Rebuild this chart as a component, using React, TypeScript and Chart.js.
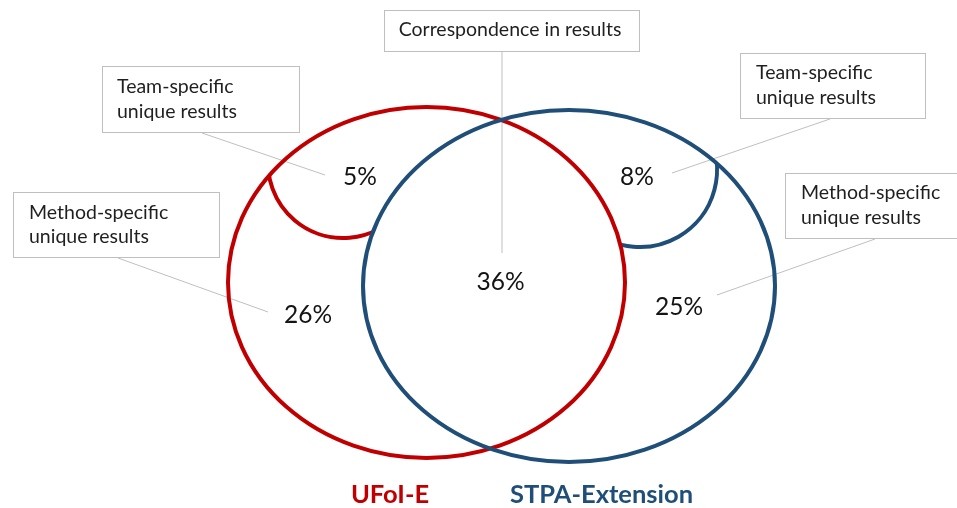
import React, { useEffect, useRef } from "react";
import { Chart, registerables } from "chart.js";

Chart.register(...registerables);

// ---------- data ----------
const setNames = ["UFoI-E", "STPA-Extension"];
const setColors = ["#C00000", "#1F4E79"];
const regionValues = [26, 5, 36, 8, 25]; // % : UFoI method, UFoI team, shared, STPA team, STPA method
const calloutTexts = [
  ["Method-specific", "unique results"],
  ["Team-specific", "unique results"],
  ["Correspondence in results"],
  ["Team-specific", "unique results"],
  ["Method-specific", "unique results"],
];

// ---------- layout (diagram units on hidden linear scales) ----------
const ellipses = [
  { cx: 426.5, cy: 282.5, rx: 198.5, ry: 175.5 },
  { cx: 569, cy: 286, rx: 206, ry: 176 },
];
const subArcs = [
  { cx: 343, cy: 163, r: 75, a0: 40, a1: 190 },
  { cx: 640, cy: 170, r: 77, a0: -30, a1: 130 },
];
const valuePos = [
  { x: 308, y: 315 },
  { x: 360, y: 177 },
  { x: 500.5, y: 282 },
  { x: 637, y: 177 },
  { x: 679, y: 307 },
];
const boxes = [
  { x0: 13, y0: 192, x1: 219, y1: 257, tx: 29, ly: [213, 237], center: false },
  { x0: 102, y0: 66, x1: 299, y1: 132, tx: 117, ly: [87, 112], center: false },
  { x0: 383.5, y0: 10, x1: 638, y1: 50.5, tx: 510, ly: [30], center: true },
  { x0: 740, y0: 53, x1: 925, y1: 118, tx: 756, ly: [73, 98], center: false },
  { x0: 785, y0: 173, x1: 965, y1: 238, tx: 801, ly: [193, 218], center: false },
];
const leaders = [
  { x0: 118, y0: 258, x1: 268, y1: 312 },
  { x0: 202, y0: 133, x1: 325, y1: 175 },
  { x0: 502, y0: 51, x1: 502, y1: 253 },
  { x0: 830, y0: 119, x1: 672, y1: 173 },
  { x0: 875, y0: 239, x1: 717, y1: 295 },
];
const setLabelPos = [
  { x: 390, y: 495 },
  { x: 601.5, y: 495 },
];

const FONT = "Lato, 'Open Sans', sans-serif";

const vennPlugin = {
  id: "venn",
  afterDraw(chart: any) {
    const ctx: CanvasRenderingContext2D = chart.ctx;
    const xs = chart.scales.x;
    const ys = chart.scales.y;
    const px = (v: number) => xs.getPixelForValue(v);
    const py = (v: number) => ys.getPixelForValue(v);
    const dx = (v: number) => Math.abs(xs.getPixelForValue(v) - xs.getPixelForValue(0));
    const dy = (v: number) => Math.abs(ys.getPixelForValue(v) - ys.getPixelForValue(0));

    ctx.save();
    // leader lines
    ctx.strokeStyle = "#BFBFBF";
    ctx.lineWidth = 1;
    leaders.forEach((l) => {
      ctx.beginPath();
      ctx.moveTo(px(l.x0), py(l.y0));
      ctx.lineTo(px(l.x1), py(l.y1));
      ctx.stroke();
    });

    // sub arcs clipped to the set-only areas (even-odd of both ellipses)
    ctx.save();
    ctx.beginPath();
    ellipses.forEach((e) => {
      ctx.moveTo(px(e.cx) + dx(e.rx), py(e.cy));
      ctx.ellipse(px(e.cx), py(e.cy), dx(e.rx), dy(e.ry), 0, 0, Math.PI * 2);
    });
    ctx.clip("evenodd");
    subArcs.forEach((a, i) => {
      ctx.strokeStyle = setColors[i];
      ctx.lineWidth = 4;
      ctx.beginPath();
      ctx.arc(px(a.cx), py(a.cy), dx(a.r), (a.a0 * Math.PI) / 180, (a.a1 * Math.PI) / 180);
      ctx.stroke();
    });
    ctx.restore();

    // ellipses
    ellipses.forEach((e, i) => {
      ctx.strokeStyle = setColors[i];
      ctx.lineWidth = 4;
      ctx.beginPath();
      ctx.ellipse(px(e.cx), py(e.cy), dx(e.rx), dy(e.ry), 0, 0, Math.PI * 2);
      ctx.stroke();
    });

    // callout boxes
    boxes.forEach((b, i) => {
      const x0 = Math.round(px(b.x0)) + 0.5;
      const y0 = Math.round(py(b.y0)) + 0.5;
      const w = Math.round(px(b.x1) - px(b.x0));
      const h = Math.round(py(b.y1) - py(b.y0));
      ctx.fillStyle = "#FFFFFF";
      ctx.fillRect(x0, y0, w, h);
      ctx.strokeStyle = "#BFBFBF";
      ctx.lineWidth = 1;
      ctx.strokeRect(x0, y0, w, h);
      ctx.fillStyle = "#1F1F1F";
      ctx.font = `19.5px ${FONT}`;
      ctx.textBaseline = "middle";
      ctx.textAlign = b.center ? "center" : "left";
      calloutTexts[i].forEach((t, j) => {
        ctx.fillText(t, px(b.tx), py(b.ly[j]));
      });
    });

    // values
    ctx.fillStyle = "#141414";
    ctx.font = `24.5px ${FONT}`;
    ctx.textAlign = "center";
    ctx.textBaseline = "middle";
    regionValues.forEach((v, i) => {
      ctx.fillText(`${v}%`, px(valuePos[i].x), py(valuePos[i].y));
    });

    // set names
    ctx.font = `bold 25.5px ${FONT}`;
    setNames.forEach((n, i) => {
      ctx.fillStyle = setColors[i];
      ctx.fillText(n, px(setLabelPos[i].x), py(setLabelPos[i].y));
    });
    ctx.restore();
  },
};

export default function App() {
  const ref = useRef<HTMLCanvasElement | null>(null);
  useEffect(() => {
    document.body.style.margin = "0";
    if (!ref.current) return;
    const chart = new Chart(ref.current, {
      type: "scatter",
      data: { datasets: [{ data: [], pointRadius: 0 }] },
      options: {
        responsive: false,
        maintainAspectRatio: false,
        animation: false,
        events: [],
        layout: { padding: 0 },
        plugins: { legend: { display: false }, tooltip: { enabled: false } },
        scales: {
          x: { type: "linear", min: 0, max: 957, display: false },
          y: { type: "linear", min: 0, max: 508, reverse: true, display: false },
        },
      },
      plugins: [vennPlugin],
    });
    if ((document as any).fonts && (document as any).fonts.ready) {
      (document as any).fonts.ready.then(() => chart.draw());
    }
    return () => chart.destroy();
  }, []);
  return (
    <div style={{ width: 957, height: 508, background: "#fff" }}>
      <canvas ref={ref} width={957} height={508} style={{ display: "block" }} />
    </div>
  );
}
